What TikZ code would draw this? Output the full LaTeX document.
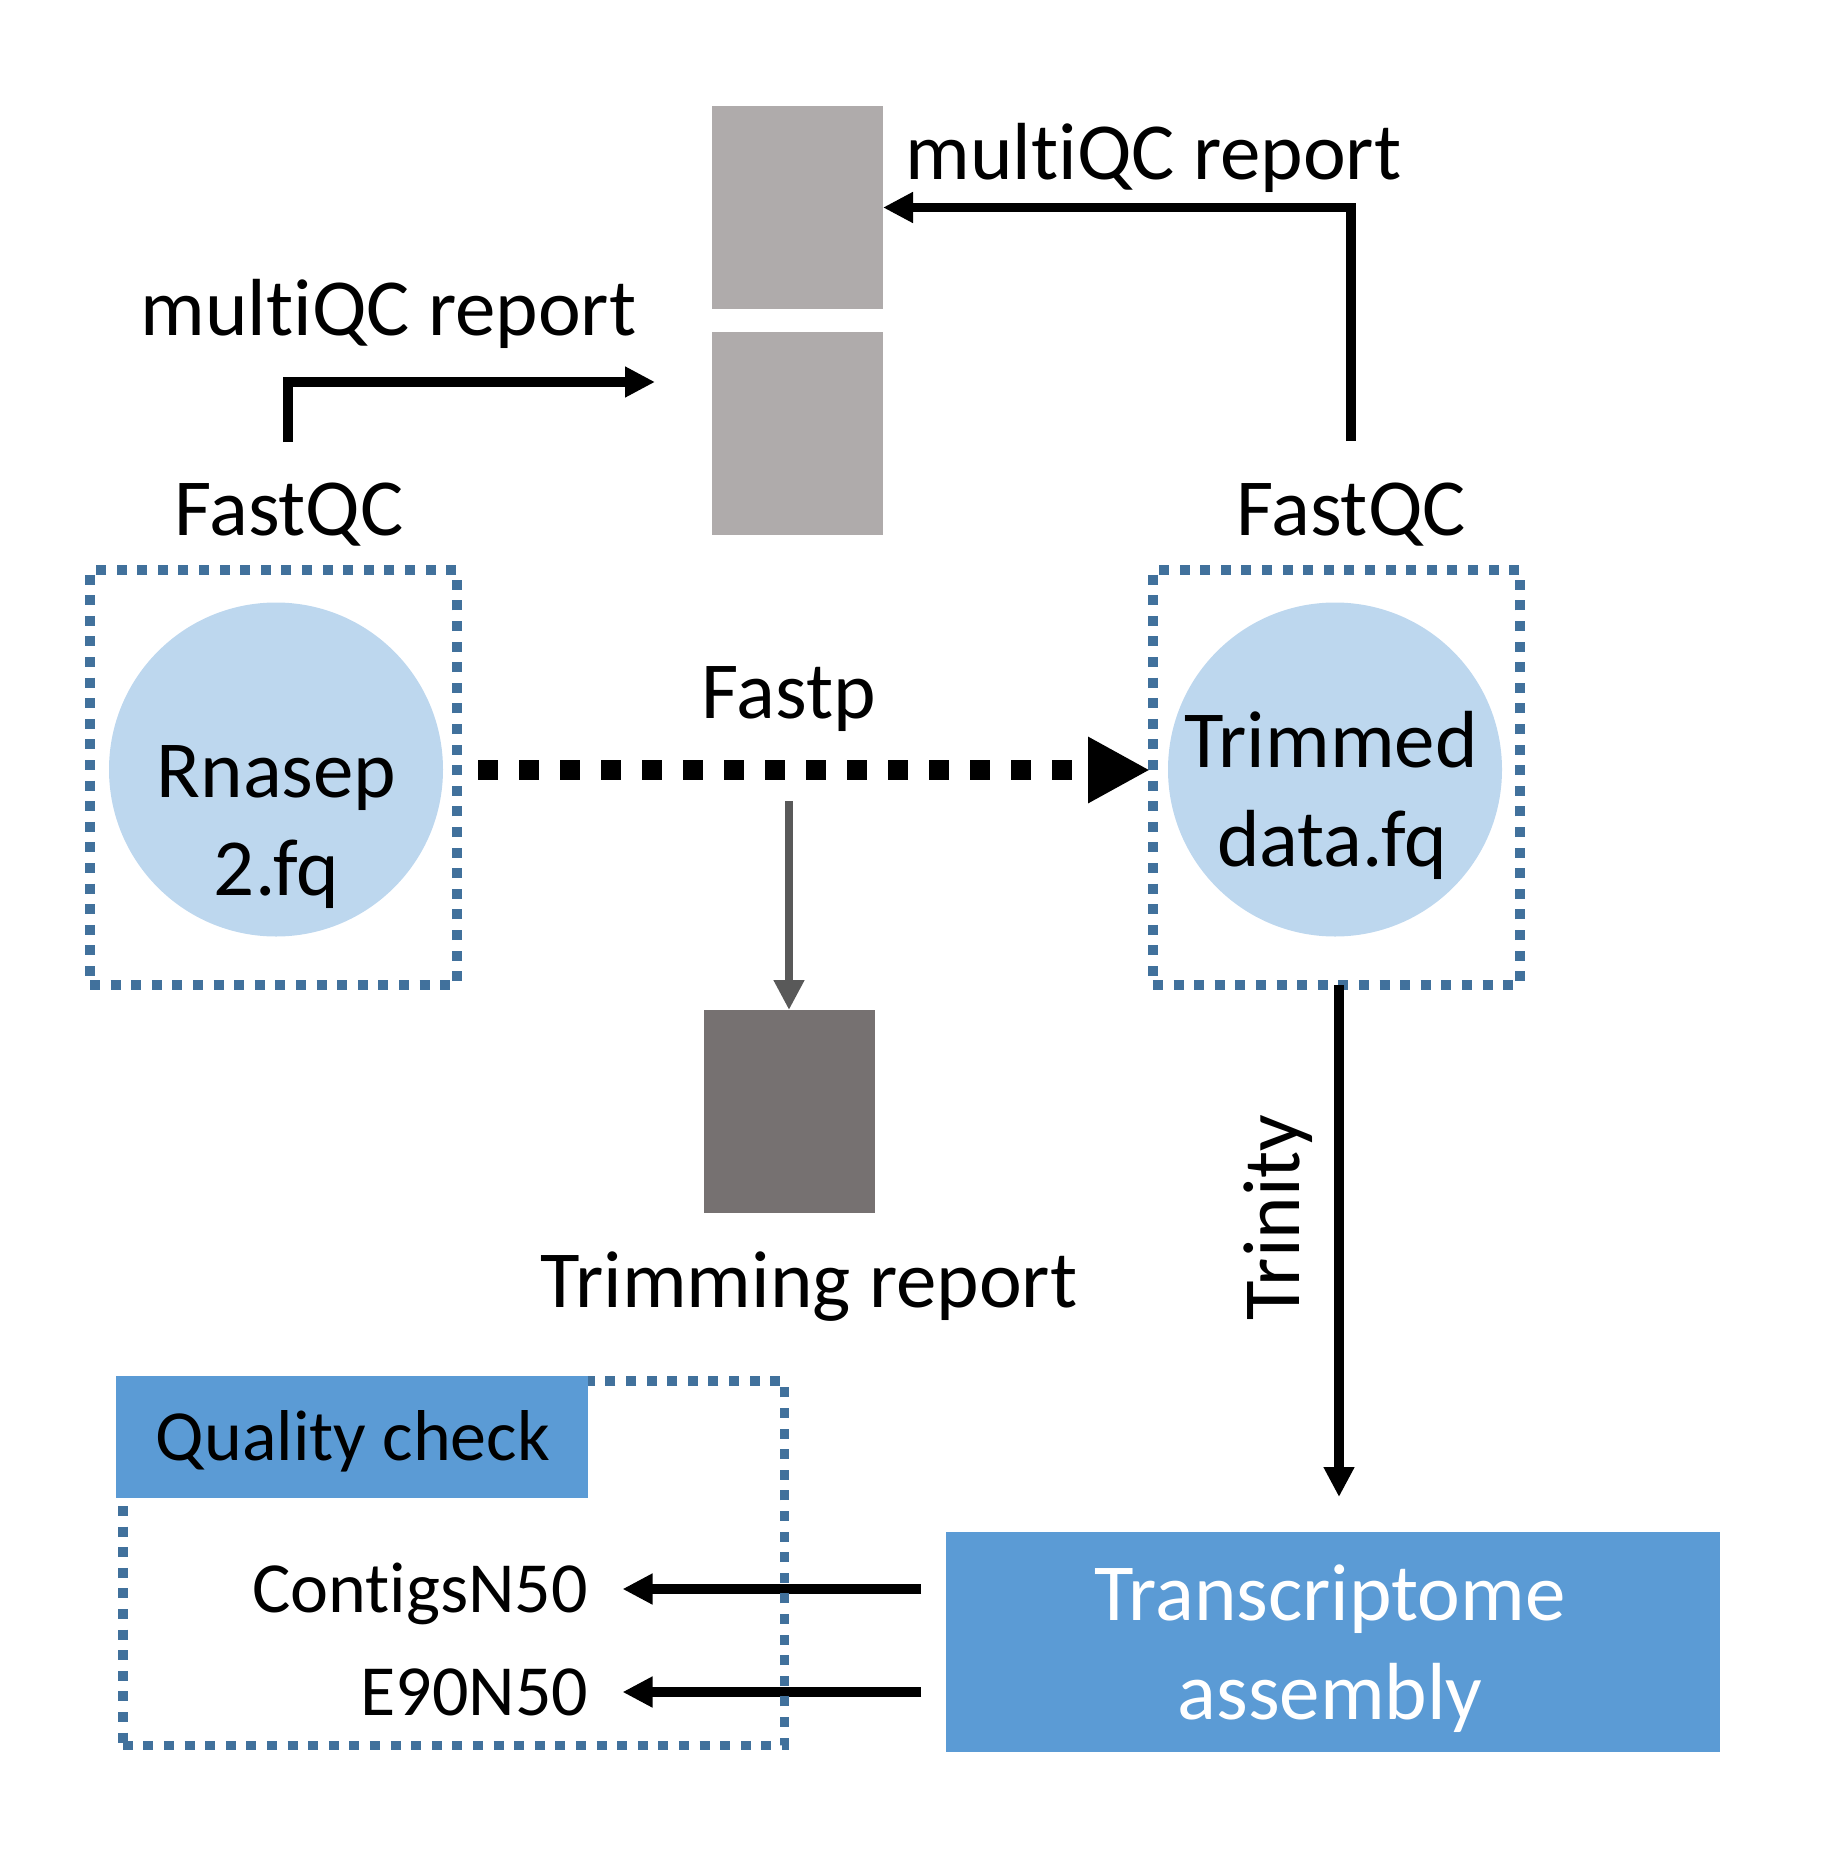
\documentclass[tikz,border=0pt]{standalone}
\usepackage{fontspec}
\setmainfont{Carlito}[Ligatures=NoCommon]
\usetikzlibrary{arrows.meta}
\definecolor{cDotBlue}{HTML}{41719C}
\definecolor{cLightBox}{HTML}{AFABAB}
\definecolor{cDarkBox}{HTML}{767171}
\definecolor{cArrowGray}{HTML}{595959}
\definecolor{cCircle}{HTML}{BDD7EE}
\definecolor{cBlue}{HTML}{5B9BD5}
\begin{document}
\begin{tikzpicture}[x=1pt,y=-1pt,
  txt/.style={inner sep=0pt, outer sep=0pt, font=\fontsize{81}{99}\selectfont, anchor=base},
  smalltxt/.style={txt, font=\fontsize{72}{88}\selectfont},
  blk/.style={line width=9.5pt, -{Triangle[length=30pt,width=29pt]}},
  gry/.style={draw=cArrowGray, line width=8.7pt, -{Triangle[length=30pt,width=29pt]}},
  fastparrow/.style={line width=20pt, dash pattern=on 20pt off 21pt, -{Triangle[length=62pt,width=62pt]}},
  dotbox/.style={rectangle, draw=cDotBlue, line width=9.5pt, dash pattern=on 10pt off 10.6pt, inner sep=0pt, outer sep=0pt},
  filebox/.style={rectangle, draw=none, inner sep=0pt, outer sep=0pt, minimum width=171pt, minimum height=203pt},
  readcirc/.style={circle, fill=cCircle, draw=none, inner sep=0pt, outer sep=0pt, minimum size=334pt},
  bluebox/.style={rectangle, fill=cBlue, draw=none, inner sep=0pt, outer sep=0pt}
]
\useasboundingbox (0,0) rectangle (1833,1851);

% report boxes
\node[filebox, fill=cLightBox] (qc1) at (797.5,207.5) {};
\node[filebox, fill=cLightBox] (qc2) at (797.5,433.5) {};
\node[filebox, fill=cDarkBox] (trim) at (789,1111.5) {};

% reads
\node[readcirc] (circL) at (276,769.5) {};
\node[readcirc] (circR) at (1335,769.5) {};
\node[dotbox, minimum width=367pt, minimum height=415pt] (boxL) at (273.5,777.5) {};
\node[dotbox, minimum width=367pt, minimum height=415pt] (boxR) at (1336.4,777.5) {};

\node[txt] (rn1) at (276.5,797) {Rnasep};
\node[txt] (rn2) at (276.5,895) {2.fq};
\node[txt] (tr1) at (1331,767) {Trimmed};
\node[txt] (tr2) at (1332,866) {data.fq};

% labels
\node[txt] (mqR) at (1153.5,180) {multiQC report};
\node[txt] (mqL) at (388.5,335) {multiQC report};
\node[txt] (fqcL) at (289,535) {FastQC};
\node[txt] (fqcR) at (1351,535) {FastQC};
\node[txt] (fastp) at (789,718) {Fastp};
\node[txt] (trimlab) at (809,1307) {Trimming report};
\node[txt, rotate=90] (trinity) at (1299,1217.5) {Trinity};

% assembly box
\node[bluebox, minimum width=773.6pt, minimum height=220pt] (tbox) at (1332.8,1642) {};
\node[txt, text=white] (ta1) at (1330,1620) {Transcriptome};
\node[txt, text=white] (ta2) at (1330,1719) {assembly};

% connectors
\coordinate (sL) at (288,442);
\coordinate (eL) at (655,382);
\draw[blk] (sL) |- (eL);
\coordinate (sR) at (1351,441);
\draw[blk] (sR) |- (qc1.east);
\coordinate (fs) at (478,770);
\coordinate (fe) at (1150,770);
\draw[fastparrow] (fs) -- (fe);
\coordinate (gs) at (789,801);
\draw[gry] (gs) -- (trim.north);
\coordinate (trE) at (1339,1497);
\draw[blk] (boxR.south -| trE) -- (trE);
\coordinate (c1e) at (622.5,1589);
\coordinate (c2e) at (622.5,1692);
\draw[blk] ([xshift=-25pt]tbox.west |- c1e) -- (c1e);
\draw[blk] ([xshift=-25pt]tbox.west |- c2e) -- (c2e);

% quality check box
\node[dotbox, minimum width=661.5pt, minimum height=364.5pt] (qcbox) at (453.5,1563) {};
\node[bluebox, minimum width=472.4pt, minimum height=122pt] (qchead) at (351.8,1437) {};
\node[smalltxt] (qclab) at (353,1460) {Quality check};
\node[smalltxt, anchor=base east] (contigs) at (588,1612) {ContigsN50};
\node[smalltxt, anchor=base east] (e90) at (588,1715) {E90N50};
\end{tikzpicture}
\end{document}
